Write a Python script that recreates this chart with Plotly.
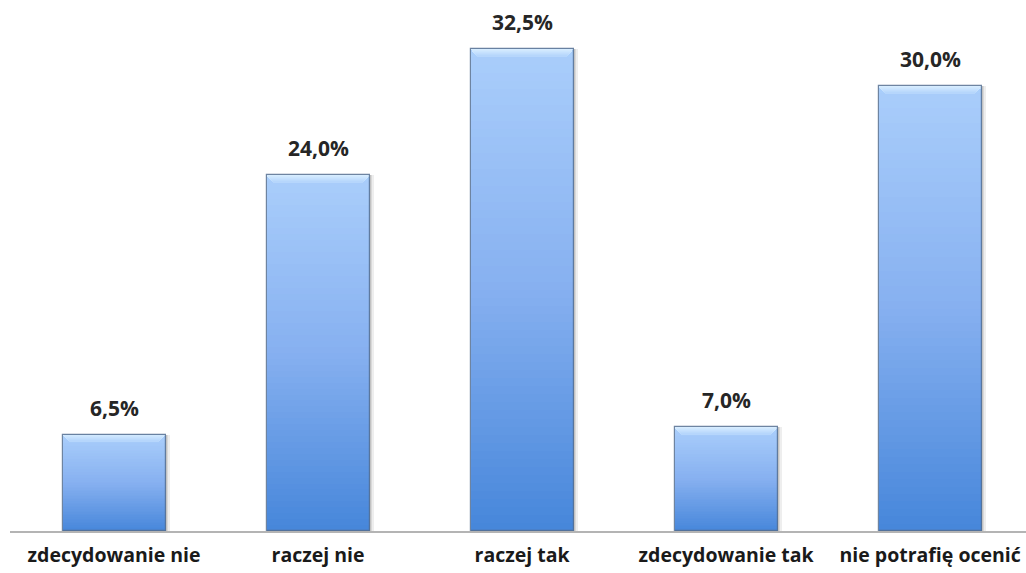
import plotly.graph_objects as go

# Survey answers and their shares (%)
categories = ["zdecydowanie nie", "raczej nie", "raczej tak", "zdecydowanie tak", "nie potrafię ocenić"]
values = [6.5, 24.0, 32.5, 7.0, 30.0]
value_labels = ["6,5%", "24,0%", "32,5%", "7,0%", "30,0%"]

Y_MAX = 35.8
BAR_W = 0.505
N_STEPS = 60          # slices used to paint the vertical gradient
BEVEL_STEPS = 7       # slices of the chamfered top edge
BEVEL_H = 0.07        # height of one bevel slice (data units)
BEVEL_IN = 0.0055     # how far each bevel slice is inset on both sides

TOP_RGB = (170, 206, 251)
MID_RGB = (134, 176, 240)
BOT_RGB = (70, 134, 218)
BEVEL_TOP = (214, 236, 255)
BEVEL_BOT = (182, 214, 252)


def mix(a, b, t):
    return tuple(round(a[i] + (b[i] - a[i]) * t) for i in range(3))


def rgb(c):
    return "rgb(%d,%d,%d)" % c


def grad_color(t):
    # t = 0 at the bar bottom, 1 at the top
    if t < 0.5:
        return rgb(mix(BOT_RGB, MID_RGB, t / 0.5))
    return rgb(mix(MID_RGB, TOP_RGB, (t - 0.5) / 0.5))


x_idx = list(range(len(categories)))
fig = go.Figure()

# soft drop shadow to the right of each bar
for dx, alpha in [(0.022, 0.10), (0.014, 0.14), (0.007, 0.18)]:
    fig.add_trace(go.Bar(
        x=x_idx, y=values, width=BAR_W, offset=-BAR_W / 2 + dx,
        marker=dict(color="rgba(90,90,90,%.2f)" % alpha, line=dict(width=0)),
        hoverinfo="skip", showlegend=False,
    ))

# gradient body: each slice spans the same fraction of every bar
for k in range(N_STEPS):
    t0 = k / N_STEPS
    fig.add_trace(go.Bar(
        x=x_idx,
        y=[v / N_STEPS * 1.02 for v in values],
        base=[v * t0 for v in values],
        width=BAR_W,
        marker=dict(color=grad_color((k + 0.5) / N_STEPS), line=dict(width=0)),
        hoverinfo="skip", showlegend=False,
    ))

# chamfered highlight along the top edge, narrowing downward
for j in range(BEVEL_STEPS):
    w = BAR_W - 2 * BEVEL_IN * j
    fig.add_trace(go.Bar(
        x=x_idx,
        y=[BEVEL_H * 1.05] * len(values),
        base=[v - BEVEL_H * (j + 1) for v in values],
        width=w,
        marker=dict(color=rgb(mix(BEVEL_TOP, BEVEL_BOT, j / (BEVEL_STEPS - 1))), line=dict(width=0)),
        hoverinfo="skip", showlegend=False,
    ))

# thin outline around each bar
fig.add_trace(go.Bar(
    x=x_idx, y=values, width=BAR_W,
    marker=dict(color="rgba(0,0,0,0)", line=dict(color="rgba(85,110,145,0.85)", width=1.2)),
    hoverinfo="skip", showlegend=False,
))

for i, v in enumerate(values):
    fig.add_annotation(
        x=i, y=v, text="<b>%s</b>" % value_labels[i], showarrow=False,
        yanchor="bottom", yshift=11,
        font=dict(family="Open Sans", size=21, color="#262626"),
    )

fig.update_layout(
    width=1026, height=573,
    margin=dict(l=10, r=0, t=0, b=42),
    paper_bgcolor="white", plot_bgcolor="white",
    barmode="overlay", bargap=0,
    showlegend=False,
    xaxis=dict(
        range=[-0.51, 4.47],
        tickmode="array", tickvals=x_idx,
        ticktext=["<b>%s</b>" % c for c in categories],
        tickfont=dict(family="Open Sans", size=19.5, color="#1a1a1a"),
        showline=True, linecolor="#b4b4b4", linewidth=1.5,
        ticks="outside", ticklen=6, tickcolor="rgba(0,0,0,0)",
        showgrid=False, zeroline=False, fixedrange=True,
    ),
    yaxis=dict(
        range=[0, Y_MAX], visible=False, showgrid=False, zeroline=False, fixedrange=True,
    ),
)

fig.write_html("out.html")
